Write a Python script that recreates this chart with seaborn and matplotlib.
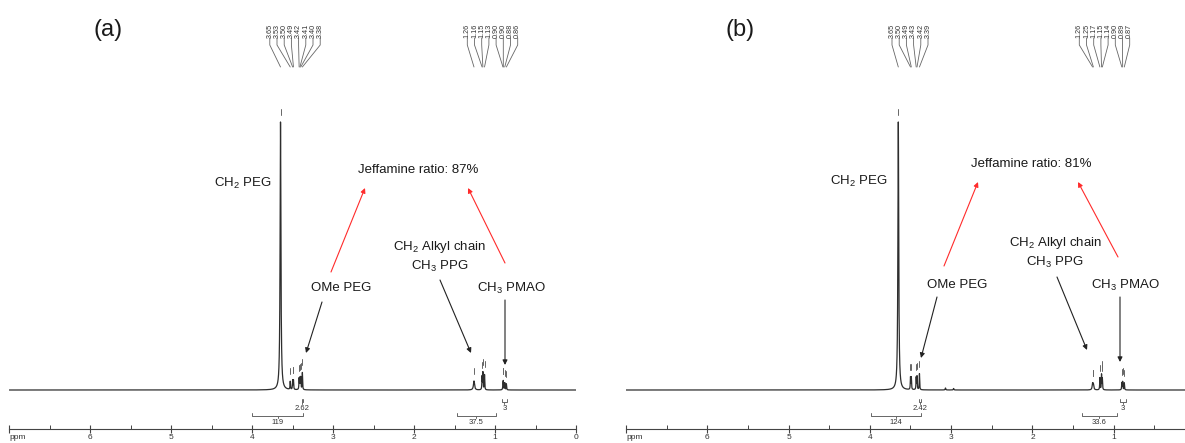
import numpy as np
import pandas as pd
import matplotlib
matplotlib.use("Agg")
import matplotlib.pyplot as plt
import seaborn as sns
from matplotlib.ticker import MultipleLocator

# ---------------- data ----------------
# panel (a)
peak_ppm_a = [3.65, 3.53, 3.50, 3.49, 3.42, 3.41, 3.40, 3.38,
              1.26, 1.16, 1.15, 1.13, 0.902, 0.898, 0.88, 0.86]
peak_int_a = [268, 8, 9, 9, 11, 11, 12, 17,
              9, 13, 17, 15, 6, 7, 7, 6]
peak_wid_a = [0.006, 0.003, 0.003, 0.003, 0.003, 0.003, 0.003, 0.003,
              0.008, 0.003, 0.003, 0.003, 0.003, 0.003, 0.003, 0.003]
pick_left_a = [3.65, 3.53, 3.50, 3.49, 3.42, 3.41, 3.40, 3.38]
pick_right_a = [1.26, 1.16, 1.15, 1.13, 0.902, 0.898, 0.88, 0.86]
integ_start_a = [4.00, 3.39, 1.47, 0.92]
integ_end_a = [3.37, 3.37, 0.99, 0.85]
integ_val_a = ["119", "2.62", "37.5", "3"]
integ_level_a = [2, 1, 2, 1]
ratio_a = "Jeffamine ratio: 87%"

# panel (b)
peak_ppm_b = [3.65, 3.50, 3.49, 3.43, 3.42, 3.39, 3.07, 2.97,
              1.26, 1.25, 1.17, 1.15, 1.14, 0.90, 0.89, 0.87]
peak_int_b = [268, 12, 12, 12, 13, 16, 2, 1.5,
              6, 5, 12, 15, 11, 7, 8, 7]
peak_wid_b = [0.006, 0.003, 0.003, 0.003, 0.003, 0.003, 0.004, 0.004,
              0.006, 0.006, 0.003, 0.003, 0.003, 0.003, 0.003, 0.003]
pick_left_b = [3.65, 3.50, 3.49, 3.43, 3.42, 3.39]
pick_right_b = [1.26, 1.25, 1.17, 1.15, 1.14, 0.90, 0.89, 0.87]
integ_start_b = [3.99, 3.39, 1.39, 0.92]
integ_end_b = [3.37, 3.37, 0.96, 0.85]
integ_val_b = ["124", "2.42", "33.6", "3"]
integ_level_b = [2, 1, 2, 1]
ratio_b = "Jeffamine ratio: 81%"

ppm_ticks = [7, 6, 5, 4, 3, 2, 1, 0]
ppm_tick_labels_a = ["ppm", "6", "5", "4", "3", "2", "1", "0"]
ppm_tick_labels_b = ["ppm", "6", "5", "4", "3", "2", "1", ""]

# ---------------- style ----------------
sns.set_theme(style="white")
plt.rcParams["font.family"] = ["Liberation Sans", "DejaVu Sans"]
plt.rcParams["mathtext.fontset"] = "custom"
plt.rcParams["mathtext.rm"] = "Liberation Sans"
plt.rcParams["mathtext.it"] = "Liberation Sans:italic"
plt.rcParams["mathtext.bf"] = "Liberation Sans:bold"

W, H = 1185, 443
fig = plt.figure(figsize=(W / 100, H / 100), dpi=100)
fig.patch.set_facecolor("white")

TXT = "#1a1a1a"
LINE = "#2e2e2e"
RED = "#ff2b2b"
GRAY = "#666666"


def yd(ypx):
    return 390 - ypx


def make_panel(x0, x1, ppm_list, int_list, wid_list, pick_l, pick_r,
               lc_px, rc_px, i_s, i_e, i_v, i_l, tag, tag_xy, texts,
               black_arrows, red_arrows, ratio, ratio_xy, tick_labels):
    ax = fig.add_axes([x0 / W, 0, (x1 - x0) / W, 1])
    ax.set_xlim(7, 0)
    ax.set_ylim(-53, 390)

    def xd(xpx):
        return 7 - (xpx - x0) / (x1 - x0) * 7

    # spectrum (sum of lorentzian lines at the read peak positions)
    grid = np.linspace(7, 0, 14001)
    spec = np.zeros_like(grid)
    for p, h, g in zip(ppm_list, int_list, wid_list):
        spec += h / (1 + ((grid - p) / g) ** 2)
    df = pd.DataFrame({"ppm": grid, "I": spec})
    sns.lineplot(data=df, x="ppm", y="I", ax=ax, color=LINE, lw=0.9,
                 estimator=None, sort=False)
    ax.set_xlim(7, 0)
    ax.set_ylim(-53, 390)

    def spec_at(p):
        return float(np.interp(-p, -grid, spec))

    # peak pick marks and top labels
    per_ppm = (x1 - x0) / 7.0
    step = 7.2 / per_ppm
    for picks, c_px in ((pick_l, lc_px), (pick_r, rc_px)):
        n = len(picks)
        cx = xd(c_px)
        for i, p in enumerate(picks):
            lx = cx + (n - 1) / 2 * step - i * step
            ax.text(lx, yd(38), f"{p:.2f}", rotation=90, ha="center",
                    va="bottom", fontsize=5.2, color="#333333")
            ax.plot([lx, lx, p], [yd(38), yd(45), yd(67)], color=GRAY,
                    lw=0.6)
            top = spec_at(p)
            ax.plot([p, p], [top + 7, top + 13], color=GRAY, lw=0.7)

    # integrals
    for s, e, v, lev in zip(i_s, i_e, i_v, i_l):
        yb = yd(402) if lev == 1 else yd(416)
        yt = yd(408) if lev == 1 else yd(422)
        ax.plot([s, s, e, e], [yb + 3, yb, yb, yb + 3], color=GRAY, lw=0.7)
        m = (s + e) / 2
        ax.plot([m, m], [yb, yb - 2], color=GRAY, lw=0.7)
        ax.text(m, yt, v, ha="center", va="center", fontsize=5.5,
                color="#333333")

    # axis
    for sp in ("left", "right", "top"):
        ax.spines[sp].set_visible(False)
    ax.spines["bottom"].set_position(("data", yd(429)))
    ax.spines["bottom"].set_color("#444444")
    ax.spines["bottom"].set_linewidth(0.8)
    ax.set_yticks([])
    ax.set_xticks(ppm_ticks)
    ax.set_xticklabels(tick_labels)
    ax.xaxis.get_major_ticks()[0].label1.set_horizontalalignment("left")
    ax.xaxis.set_minor_locator(MultipleLocator(0.5))
    ax.tick_params(axis="x", which="major", direction="inout", length=6,
                   width=0.8, color="#444444", labelsize=6, pad=0.5,
                   labelcolor="#333333", bottom=True)
    ax.tick_params(axis="x", which="minor", direction="in", length=3,
                   width=0.7, color="#444444", bottom=True)
    ax.set_xlabel("")
    ax.set_ylabel("")
    ax.grid(False)
    ax.patch.set_alpha(0)

    # annotation text
    ax.text(xd(tag_xy[0]), yd(tag_xy[1]), tag, ha="center", va="center",
            fontsize=17, color=TXT)
    for t, (tx, ty) in texts:
        ax.text(xd(tx), yd(ty), t, ha="center", va="center", fontsize=9.5,
                color=TXT)
    ax.text(xd(ratio_xy[0]), yd(ratio_xy[1]), ratio, ha="center",
            va="center", fontsize=9.5, color=TXT)
    for (tx, ty), (hx, hy) in black_arrows:
        ax.annotate("", xy=(xd(hx), yd(hy)), xytext=(xd(tx), yd(ty)),
                    arrowprops=dict(arrowstyle="-|>", color="#222222",
                                    lw=0.8, mutation_scale=7,
                                    shrinkA=0, shrinkB=0))
    for (tx, ty), (hx, hy) in red_arrows:
        ax.annotate("", xy=(xd(hx), yd(hy)), xytext=(xd(tx), yd(ty)),
                    arrowprops=dict(arrowstyle="-|>", color=RED,
                                    lw=0.8, mutation_scale=7,
                                    shrinkA=0, shrinkB=0))
    return ax


make_panel(
    9.3, 576, peak_ppm_a, peak_int_a, peak_wid_a, pick_left_a, pick_right_a,
    295, 492.5, integ_start_a, integ_end_a, integ_val_a, integ_level_a,
    "(a)", (108, 30),
    [(r"CH$_2$ PEG", (243, 183)),
     (r"CH$_2$ Alkyl chain", (439, 247)),
     (r"CH$_3$ PPG", (440, 266)),
     ("OMe PEG", (341, 288)),
     (r"CH$_3$ PMAO", (511, 288))],
    [((322, 302), (306, 353)), ((440, 280), (471, 353)),
     ((505, 300), (505, 365))],
    [((331, 272), (365, 188)), ((505, 263), (468, 188))],
    ratio_a, (418, 170), ppm_tick_labels_a)

make_panel(
    626, 1195, peak_ppm_b, peak_int_b, peak_wid_b, pick_left_b, pick_right_b,
    910, 1104.5, integ_start_b, integ_end_b, integ_val_b, integ_level_b,
    "(b)", (740, 30),
    [(r"CH$_2$ PEG", (859, 181)),
     (r"CH$_2$ Alkyl chain", (1055, 243)),
     (r"CH$_3$ PPG", (1055, 262)),
     ("OMe PEG", (957, 285)),
     (r"CH$_3$ PMAO", (1125, 285))],
    [((937, 297), (921, 358)), ((1057, 277), (1087, 350)),
     ((1120, 297), (1120, 362))],
    [((944, 266), (978, 182)), ((1118, 257), (1078, 182))],
    ratio_b, (1031, 164), ppm_tick_labels_b)

fig.savefig("out.png", dpi=100)
